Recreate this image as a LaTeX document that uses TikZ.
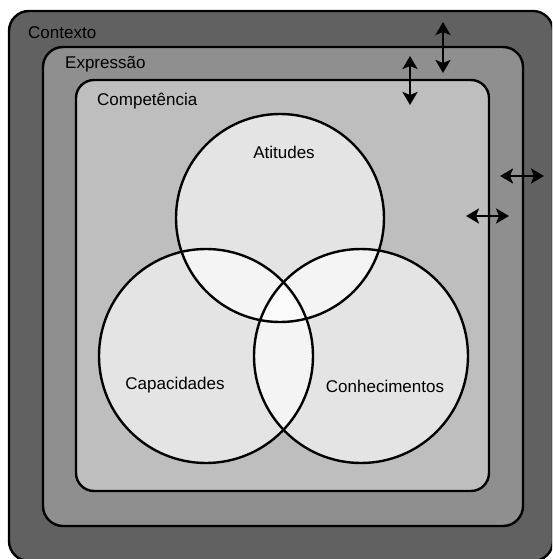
\documentclass[tikz,border=0pt]{standalone}
\usepackage{fontspec}
\setmainfont{Liberation Sans}
\usetikzlibrary{arrows.meta}
\definecolor{cOuter}{HTML}{616161}
\definecolor{cMid}{HTML}{8F8F8F}
\definecolor{cInner}{HTML}{BEBEBE}
\definecolor{cCirc}{HTML}{E4E4E4}
\definecolor{cPair}{HTML}{F4F4F4}
\definecolor{cTriple}{HTML}{FAFAFA}
\begin{document}
\begin{tikzpicture}[x=1pt,y=-1pt,
  box/.style={draw=black,line width=2.4pt},
  ring/.style={draw=black,line width=2.4pt},
  lbl/.style={font=\fontsize{17}{20}\selectfont,text=black,inner sep=0pt},
  dblarrow/.style={{Stealth[length=13pt,width=15pt,inset=3pt]}-{Stealth[length=13pt,width=15pt,inset=3pt]},line width=2.8pt}]
\useasboundingbox (0,0) rectangle (552,559);
\begin{scope}
\clip (0,0) rectangle (552,559);
\path[box,fill=cOuter,rounded corners=20pt] (9,11) rectangle (553,561);
\end{scope}
\path[box,fill=cMid,rounded corners=20pt] (43,47) rectangle (523,526);
\path[box,fill=cInner,rounded corners=18pt] (76,80) rectangle (489,491);
% circles
\coordinate (cA) at (280,218);
\coordinate (cB) at (206,356);
\coordinate (cC) at (361,356);
\fill[cCirc] (cA) circle (104);
\fill[cCirc] (cB) circle (107);
\fill[cCirc] (cC) circle (107);
\begin{scope}\clip (cA) circle (104); \fill[cPair] (cB) circle (107); \fill[cPair] (cC) circle (107);\end{scope}
\begin{scope}\clip (cB) circle (107); \fill[cPair] (cC) circle (107);\end{scope}
\begin{scope}\clip (cA) circle (104); \clip (cB) circle (107); \fill[cTriple] (cC) circle (107);\end{scope}
\draw[ring] (cA) circle (104);
\draw[ring] (cB) circle (107);
\draw[ring] (cC) circle (107);
% labels
\node[lbl,anchor=west] (ctx) at (28,33) {Contexto};
\node[lbl,anchor=west] (exp) at (65,64) {Expressão};
\node[lbl,anchor=west] (comp) at (97,101) {Competência};
\node[lbl] (ati) at (284,152) {Atitudes};
\node[lbl] (cap) at (175,385) {Capacidades};
\node[lbl] (con) at (385,386) {Conhecimentos};
% arrows
\coordinate (a1t) at (443,22);
\coordinate (a1b) at (443,73);
\coordinate (a2t) at (410,56);
\coordinate (a2b) at (410,105);
\coordinate (h1l) at (500,176);
\coordinate (h1r) at (544,176);
\coordinate (h2l) at (466,216);
\coordinate (h2r) at (509,216);
\draw[dblarrow] (a1t) -- (a1b);
\draw[dblarrow] (a2t) -- (a2b);
\draw[dblarrow] (h1l) -- (h1r);
\draw[dblarrow] (h2l) -- (h2r);
\end{tikzpicture}
\end{document}
